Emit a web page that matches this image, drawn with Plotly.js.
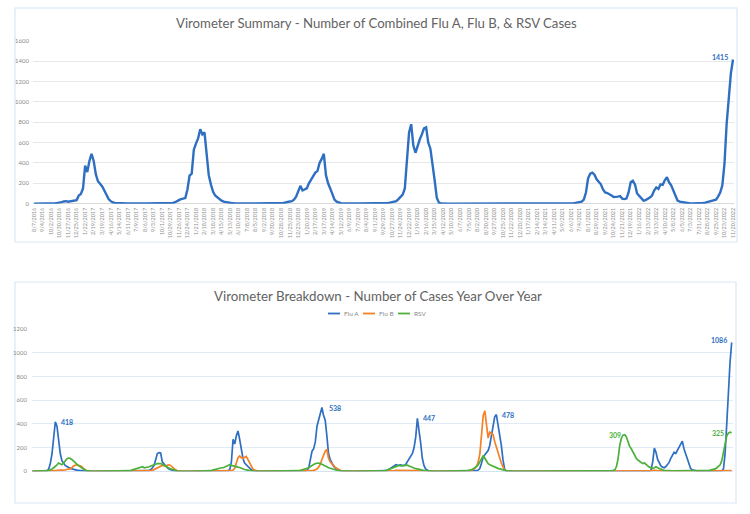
<!DOCTYPE html>
<html>
<head>
<meta charset="utf-8">
<script src="https://cdn.plot.ly/plotly-3.0.1.min.js"></script>
<style>
html,body{margin:0;padding:0;background:#ffffff;}
#chart{width:750px;height:514px;}
</style>
</head>
<body>
<div id="chart"></div>
<script>
// ---------- DATA ----------
// Weekly combined cases (Flu A + Flu B + RSV), 8/7/2016 .. 11/20/2022
const combinedCases = [
  0,0,1,1,2,2,3,4,5,5,
  6,8,10,15,22,25,20,25,25,28,
  35,80,95,150,375,310,420,490,420,290,
  220,195,170,130,80,45,25,12,8,6,
  5,4,4,3,3,3,2,2,2,2,
  2,2,2,2,2,2,2,3,3,3,
  3,3,4,4,5,8,12,20,35,45,
  50,55,140,275,295,530,590,640,730,680,
  700,450,280,190,120,80,60,50,30,20,
  15,10,6,5,4,3,3,2,2,2,
  2,2,2,2,2,2,2,2,2,2,
  2,3,3,3,4,5,5,8,12,20,
  22,25,40,70,120,175,130,140,150,200,
  240,280,305,320,400,440,490,280,200,150,
  100,40,20,10,5,3,2,2,2,2,
  2,2,2,2,2,2,2,2,3,3,
  3,3,4,4,5,6,8,10,15,20,
  25,45,70,90,150,450,700,780,570,500,
  570,630,680,740,750,600,540,400,230,60,
  10,2,0,0,0,0,0,0,0,0,
  0,0,0,0,0,0,0,0,0,0,
  0,0,0,0,0,0,0,0,0,0,
  0,0,0,0,0,0,0,0,0,0,
  0,0,0,0,0,0,0,0,0,0,
  0,0,1,1,2,2,2,3,3,3,
  4,4,5,6,8,10,15,20,40,110,
  250,295,305,285,240,220,190,140,110,105,
  95,80,65,65,70,75,50,45,50,110,
  210,225,190,100,80,50,30,35,45,60,
  80,130,160,145,190,185,230,260,210,180,
  130,80,30,20,15,10,5,3,2,2,
  2,2,3,5,8,10,15,20,25,30,
  40,70,110,180,390,780,1080,1280,1415
];

// x-axis tick labels of the summary chart (every 4th week)
const summaryTickLabels = [
  "8/7/2016","9/4/2016","10/2/2016","10/30/2016","11/27/2016","12/25/2016",
  "1/22/2017","2/19/2017","3/19/2017","4/16/2017","5/14/2017","6/11/2017","7/9/2017",
  "8/6/2017","9/3/2017","10/1/2017","10/29/2017","11/26/2017","12/24/2017",
  "1/21/2018","2/18/2018","3/18/2018","4/15/2018","5/13/2018","6/10/2018","7/8/2018",
  "8/5/2018","9/2/2018","9/30/2018","10/28/2018","11/25/2018","12/23/2018",
  "1/20/2019","2/17/2019","3/17/2019","4/14/2019","5/12/2019","6/9/2019","7/7/2019",
  "8/4/2019","9/1/2019","9/29/2019","10/27/2019","11/24/2019","12/22/2019",
  "1/19/2020","2/16/2020","3/15/2020","4/12/2020","5/10/2020","6/7/2020","7/5/2020",
  "8/2/2020","8/30/2020","9/27/2020","10/25/2020","11/22/2020","12/20/2020",
  "1/17/2021","2/14/2021","3/14/2021","4/11/2021","5/9/2021","6/6/2021","7/4/2021",
  "8/1/2021","8/29/2021","9/26/2021","10/24/2021","11/21/2021","12/19/2021",
  "1/16/2022","2/13/2022","3/13/2022","4/10/2022","5/8/2022","6/5/2022","7/3/2022",
  "7/31/2022","8/28/2022","9/25/2022","10/23/2022","11/20/2022"
];

// Breakdown chart, weekly series (fall 2014 .. 11/20/2022)
const fluA = [
  0,0,0,0,0,0,0,0,0,5,
  20,70,150,280,418,380,250,150,90,65,
  50,40,30,25,20,15,12,10,7,5,
  3,1,0,0,0,0,0,0,0,0,
  0,0,0,0,0,0,0,0,0,0,
  0,0,0,0,0,0,0,0,0,0,
  0,0,0,0,0,0,0,0,0,2,
  5,8,15,30,50,100,150,158,155,80,
  60,45,30,20,12,6,3,1,0,0,
  0,0,0,0,0,0,0,0,0,0,
  0,0,0,0,0,0,0,0,0,0,
  0,0,0,0,0,0,0,0,2,5,
  15,80,270,230,300,340,270,180,110,70,
  55,40,25,15,8,3,1,0,0,0,
  0,0,0,0,0,0,0,0,0,0,
  0,0,0,0,0,0,0,0,0,0,
  0,0,0,0,0,2,3,10,30,100,
  170,190,250,380,440,500,538,470,430,300,
  150,100,70,45,30,20,10,5,3,1,
  0,0,0,0,0,0,0,0,0,0,
  0,0,0,0,0,0,0,0,0,0,
  0,0,0,1,2,5,10,18,25,35,
  45,55,50,52,55,48,50,60,85,110,
  130,150,200,290,447,360,240,110,50,20,
  8,3,1,0,0,0,0,0,0,0,
  0,0,0,0,0,0,0,0,0,0,
  0,0,0,0,0,0,0,0,0,2,
  5,10,25,70,120,140,160,175,220,290,
  380,460,478,400,330,220,100,20,2,0,
  0,0,0,0,0,0,0,0,0,0,
  0,0,0,0,0,0,0,0,0,0,
  0,0,0,0,0,0,0,0,0,0,
  0,0,0,0,0,0,0,0,0,0,
  0,0,0,0,0,0,0,0,0,0,
  0,0,0,0,0,0,0,0,0,0,
  0,0,0,0,0,0,0,0,0,0,
  0,0,0,0,0,0,0,0,0,0,
  0,0,0,0,0,0,10,80,195,160,
  100,65,45,35,30,40,55,75,110,140,
  160,150,175,200,230,255,190,150,115,60,
  25,12,8,4,2,0,0,0,0,0,
  0,0,0,0,0,0,0,0,0,3,
  20,150,400,680,920,1086
];

const fluB = [
  0,0,0,0,0,0,0,0,0,0,
  0,2,3,5,5,8,8,10,10,12,
  12,15,15,20,30,45,50,55,50,45,
  40,25,12,5,2,0,0,0,0,0,
  0,0,0,0,0,0,0,0,0,0,
  0,0,0,0,0,0,0,0,0,0,
  0,0,0,0,0,0,0,0,0,0,
  2,3,5,8,15,22,35,40,45,50,
  48,45,50,55,50,35,20,12,6,3,
  1,0,0,0,0,0,0,0,0,0,
  0,0,0,0,0,0,0,0,0,0,
  0,0,0,0,0,0,0,0,0,2,
  3,5,10,25,70,115,130,115,110,120,
  125,100,70,40,20,10,5,2,0,0,
  0,0,0,0,0,0,0,0,0,0,
  0,0,0,0,0,0,0,0,0,0,
  0,0,0,0,0,0,0,0,0,2,
  5,8,12,20,35,60,100,140,170,185,
  110,80,65,45,35,25,15,8,4,2,
  0,0,0,0,0,0,0,0,0,0,
  0,0,0,0,0,0,0,0,0,0,
  0,0,0,0,0,0,2,3,4,5,
  6,8,8,10,10,10,12,12,10,10,
  8,8,8,6,6,5,4,3,2,2,
  1,1,0,0,0,0,0,0,0,0,
  0,0,0,0,0,0,0,0,0,0,
  0,0,0,0,0,0,3,8,15,25,
  45,80,150,300,470,510,380,280,330,320,
  310,250,200,150,110,70,40,10,3,0,
  0,0,0,0,0,0,0,0,0,0,
  0,0,0,0,0,0,0,0,0,0,
  0,0,0,0,0,0,0,0,0,0,
  0,0,0,0,0,0,0,0,0,0,
  0,0,0,0,0,0,0,0,0,0,
  0,0,0,0,0,0,0,0,0,0,
  0,0,0,0,0,0,0,0,0,0,
  0,0,0,0,0,0,0,0,0,0,
  0,0,0,0,0,0,3,8,10,8,
  5,3,0,0,0,0,0,0,0,0,
  0,0,0,0,0,0,0,0,0,0,
  0,0,0,0,0,0,0,0,0,0,
  0,0,0,0,0,0,0,0,0,0,
  2,3,3,4,5,5
];

const rsv = [
  0,0,0,0,0,0,0,0,2,5,
  8,12,20,30,40,55,70,60,55,70,
  90,105,112,110,100,90,75,60,50,35,
  25,15,10,6,3,2,1,0,0,0,
  0,0,0,0,0,0,0,0,0,0,
  0,0,0,0,0,0,0,2,3,5,
  8,12,15,18,25,28,30,38,30,32,
  35,38,45,52,58,60,65,68,65,60,
  50,45,35,28,20,15,10,6,4,2,
  1,0,0,0,0,0,0,0,0,0,
  0,0,0,0,0,1,2,3,5,8,
  12,15,20,25,25,30,30,35,40,48,
  55,50,45,40,38,35,32,25,20,15,
  12,8,5,3,2,0,0,0,0,0,
  0,0,0,0,0,0,0,0,0,0,
  0,0,0,0,0,0,0,0,0,1,
  2,3,5,8,12,15,20,25,30,40,
  50,58,65,68,70,65,60,52,45,38,
  30,25,20,15,10,8,5,3,2,0,
  0,0,0,0,0,0,0,0,0,0,
  0,0,0,0,0,0,0,0,0,0,
  0,1,2,4,6,8,12,18,22,28,
  35,40,48,50,45,48,50,55,52,45,
  38,32,25,22,20,15,12,10,8,6,
  4,2,0,0,0,0,0,0,0,0,
  0,0,0,0,0,0,0,0,0,0,
  1,2,3,4,5,8,10,15,22,30,
  40,55,80,115,133,110,80,65,55,48,
  40,35,30,25,20,15,12,10,6,4,
  2,1,0,0,0,0,0,0,0,0,
  0,0,0,0,0,0,0,0,0,0,
  0,0,0,0,0,0,0,0,0,0,
  0,0,0,0,0,0,0,0,0,0,
  0,0,0,0,0,0,0,0,0,0,
  0,0,1,1,1,2,2,2,3,3,
  4,5,6,8,12,40,110,220,280,305,
  309,290,240,210,190,160,130,110,95,85,
  80,65,70,55,45,35,28,25,30,38,
  30,22,15,12,8,6,5,5,4,4,
  4,4,3,3,3,3,4,4,4,5,
  5,5,5,4,4,4,5,5,6,6,
  6,8,10,12,15,20,30,40,55,90,
  170,240,300,322,330,325
];

const seriesNames = ["Flu A", "Flu B", "RSV"];
const seriesColors = ["#2f6fc2", "#f58025", "#4cb03a"];

// ---------- BUILD ----------
const W = 750, H = 514;
const px = v => v / W;
const py = v => 1 - v / H;
const FONT = "Lato, 'Open Sans', sans-serif";

const topX = combinedCases.map((_, i) => i);
const botX = fluA.map((_, i) => i);
const topTickVals = summaryTickLabels.map((_, k) => k * 4);

const traces = [
  {x: topX, y: combinedCases, xaxis: "x", yaxis: "y", type: "scatter", mode: "lines",
   line: {color: seriesColors[0], width: 2.4}, showlegend: false, hoverinfo: "skip"},
  {x: botX, y: fluA, xaxis: "x2", yaxis: "y2", type: "scatter", mode: "lines", name: seriesNames[0],
   line: {color: seriesColors[0], width: 1.7}, showlegend: false, hoverinfo: "skip"},
  {x: botX, y: fluB, xaxis: "x2", yaxis: "y2", type: "scatter", mode: "lines", name: seriesNames[1],
   line: {color: seriesColors[1], width: 1.7}, showlegend: false, hoverinfo: "skip"},
  {x: botX, y: rsv, xaxis: "x2", yaxis: "y2", type: "scatter", mode: "lines", name: seriesNames[2],
   line: {color: seriesColors[2], width: 1.7}, showlegend: false, hoverinfo: "skip"}
];

function peak(arr, a, b) {
  let m = a;
  for (let i = a; i <= b && i < arr.length; i++) if (arr[i] > arr[m]) m = i;
  return m;
}

const annotations = [];
// Titles
annotations.push({xref: "paper", yref: "paper", x: px(376.5), y: py(23.5), xanchor: "center", yanchor: "middle",
  text: "Virometer Summary - Number of Combined Flu A, Flu B, &amp; RSV Cases", showarrow: false,
  font: {family: FONT, size: 13.2, color: "#636363"}});
annotations.push({xref: "paper", yref: "paper", x: px(377.5), y: py(295.5), xanchor: "center", yanchor: "middle",
  text: "Virometer Breakdown - Number of Cases Year Over Year", showarrow: false,
  font: {family: FONT, size: 13.3, color: "#636363"}});

// Data labels
const lastTop = combinedCases.length - 1;
annotations.push({xref: "x", yref: "y", x: lastTop, y: combinedCases[lastTop], xanchor: "right", yanchor: "middle",
  xshift: -3, yshift: 3, showarrow: false, text: "<b>" + combinedCases[lastTop] + "</b>",
  font: {family: FONT, size: 7, color: seriesColors[0]}});

const lastBot = fluA.length - 1;
const dataLabels = [
  {arr: fluA, i: peak(fluA, 0, 50), side: "left", xs: 4, ys: 0, c: seriesColors[0]},
  {arr: fluA, i: peak(fluA, 150, 200), side: "left", xs: 5, ys: 0, c: seriesColors[0]},
  {arr: fluA, i: peak(fluA, 200, 250), side: "left", xs: 4, ys: 0, c: seriesColors[0]},
  {arr: fluA, i: peak(fluA, 260, 300), side: "left", xs: 4, ys: 0, c: seriesColors[0]},
  {arr: rsv, i: peak(rsv, 340, 400), side: "right", xs: -2, ys: 0, c: seriesColors[2]},
  {arr: rsv, i: lastBot, side: "right", xs: -6, ys: 0, c: seriesColors[2]},
  {arr: fluA, i: lastBot, side: "right", xs: -3, ys: 3, c: seriesColors[0]}
];
dataLabels.forEach(d => {
  annotations.push({xref: "x2", yref: "y2", x: d.i, y: d.arr[d.i], xanchor: d.side, yanchor: "middle",
    xshift: d.xs, yshift: d.ys, showarrow: false, text: "<b>" + d.arr[d.i] + "</b>",
    font: {family: FONT, size: 7, color: d.c}});
});

// Legend (manual, Excel-style short keys)
const shapes = [];
const legendItems = [
  {x0: 328, x1: 340, tx: 342},
  {x0: 363, x1: 375, tx: 377},
  {x0: 398, x1: 410, tx: 412}
];
legendItems.forEach((it, k) => {
  shapes.push({type: "line", xref: "paper", yref: "paper", x0: px(it.x0), x1: px(it.x1), y0: py(313.5), y1: py(313.5),
    line: {color: seriesColors[k], width: 1.8}});
  annotations.push({xref: "paper", yref: "paper", x: px(it.tx), y: py(313.5), xanchor: "left", yanchor: "middle",
    text: seriesNames[k], showarrow: false, font: {family: FONT, size: 6.5, color: "#8a8a8a"}});
});

// Chart boxes
shapes.push({type: "rect", xref: "paper", yref: "paper", x0: px(15), x1: px(737), y0: py(242), y1: py(8),
  line: {color: "#d9e7f6", width: 1.2}, fillcolor: "rgba(0,0,0,0)", layer: "below"});
shapes.push({type: "rect", xref: "paper", yref: "paper", x0: px(15), x1: px(736), y0: py(503), y1: py(282),
  line: {color: "#d9e7f6", width: 1.2}, fillcolor: "rgba(0,0,0,0)", layer: "below"});

const layout = {
  width: W, height: H,
  margin: {l: 0, r: 0, t: 0, b: 0},
  paper_bgcolor: "#ffffff", plot_bgcolor: "rgba(0,0,0,0)",
  showlegend: false,
  font: {family: FONT, color: "#8a8a8a"},
  xaxis: {
    domain: [px(33), px(734)], anchor: "y", range: [-0.47, lastTop + 0.47],
    showgrid: false, zeroline: false, showline: false, ticks: "",
    tickmode: "array", tickvals: topTickVals, ticktext: summaryTickLabels,
    tickangle: -90, tickfont: {family: FONT, size: 5.5, color: "#8f8f8f"}, ticklabelstandoff: 2
  },
  yaxis: {
    domain: [py(203.7), py(40.7)], anchor: "x", range: [0, 1600], dtick: 200,
    showgrid: true, gridcolor: "#e8e8e8", gridwidth: 1,
    zeroline: true, zerolinecolor: "#d9d9d9", zerolinewidth: 1,
    showline: false, ticks: "", tickfont: {family: FONT, size: 6, color: "#8a8a8a"}, ticklabelstandoff: 3
  },
  xaxis2: {
    domain: [px(32), px(733)], anchor: "y2", range: [-0.18, lastBot + 0.8],
    showgrid: false, zeroline: false, showline: false, showticklabels: false, ticks: ""
  },
  yaxis2: {
    domain: [py(471.3), py(329)], anchor: "x2", range: [0, 1200], dtick: 200,
    showgrid: true, gridcolor: "#e1ebf7", gridwidth: 1,
    zeroline: true, zerolinecolor: "#d5e2f2", zerolinewidth: 1,
    showline: false, ticks: "", tickfont: {family: FONT, size: 6, color: "#8a8a8a"}, ticklabelstandoff: 4
  },
  annotations: annotations,
  shapes: shapes
};

Plotly.newPlot("chart", traces, layout, {staticPlot: true, displayModeBar: false});
</script>
</body>
</html>
